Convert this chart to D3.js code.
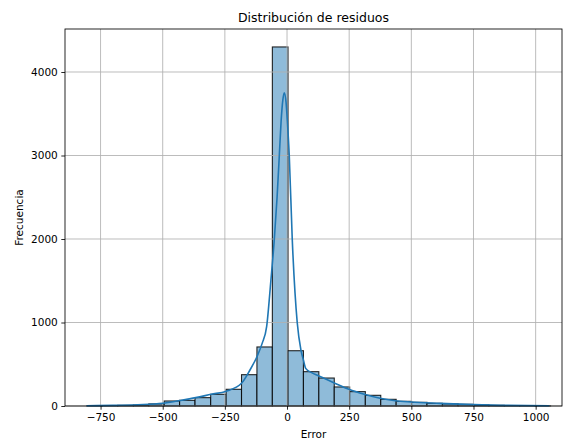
<!DOCTYPE html>
<html>
<head>
<meta charset="utf-8">
<script src="https://cdn.jsdelivr.net/npm/d3@7"></script>
<style>
  body { margin: 0; background: #fff; }
  text { font-family: "DejaVu Sans", sans-serif; fill: #000; }
</style>
</head>
<body>
<script>
const width = 563;
const height = 443;
const margin = { top: 29, right: 1, bottom: 37, left: 65 };

const chartWidth = width - margin.left - margin.right;
const chartHeight = height - margin.top - margin.bottom;

// histogram bin edges (31 edges -> 30 bins)
const binEdges = [-805, -743, -681, -618, -556, -494, -432, -370, -307, -245, -183,
  -121, -59, 4, 66, 128, 190, 252, 315, 377, 439, 501, 563, 625, 688, 750, 812,
  874, 936, 998, 1060];
const counts = [2, 4, 8, 12, 25, 60, 68, 100, 140, 200, 375, 707, 4300, 662, 411,
  335, 228, 172, 128, 80, 56, 44, 32, 25, 20, 13, 8, 5, 3, 2];

// KDE curve
const kdeX = [-806, -700, -600, -500, -430, -367, -305, -244, -183, -149, -121, -100,
  -82, -65, -51, -40, -31, -24, -17, -11, -4, 2, 9, 21, 41, 56, 66, 75, 99, 126,
  188, 249, 311, 374, 435, 499, 615, 749, 857, 1055];
const kdeY = [3, 7, 15, 32, 66, 100, 140, 178, 272, 431, 590, 750, 950, 1500, 2000,
  2500, 3000, 3400, 3660, 3752, 3640, 3380, 3000, 2000, 1000, 670, 550, 451, 399, 363,
  279, 200, 140, 92, 63, 48, 32, 16, 8, 3];

const xTicks = [-750, -500, -250, 0, 250, 500, 750, 1000];
const yTicks = [0, 1000, 2000, 3000, 4000];

const bins = counts.map((c, i) => ({ x0: binEdges[i], x1: binEdges[i + 1], count: c }));
const kde = kdeX.map((x, i) => ({ x: x, y: kdeY[i] }));

const svg = d3.select("body")
  .append("svg")
  .attr("width", width)
  .attr("height", height);

const g = svg.append("g")
  .attr("transform", `translate(${margin.left}, ${margin.top})`);

const x = d3.scaleLinear()
  .domain([-893, 1106])
  .range([0, chartWidth]);

const y = d3.scaleLinear()
  .domain([0, 4515])
  .range([chartHeight, 0]);

const fmt = d => d < 0 ? "\u2212" + Math.abs(d) : String(d);

// bars
g.selectAll("rect.bar")
  .data(bins)
  .enter()
  .append("rect")
    .attr("class", "bar")
    .attr("x", d => x(d.x0))
    .attr("y", d => y(d.count))
    .attr("width", d => x(d.x1) - x(d.x0))
    .attr("height", d => y(0) - y(d.count))
    .attr("fill", "rgb(143,187,217)")
    .attr("stroke", "#000")
    .attr("stroke-opacity", 0.85)
    .attr("stroke-width", 1.1);

// grid (above bars, below line, like matplotlib)
g.append("g")
  .selectAll("line")
  .data(xTicks)
  .enter()
  .append("line")
    .attr("x1", d => x(d)).attr("x2", d => x(d))
    .attr("y1", 0).attr("y2", chartHeight)
    .attr("stroke", "#b0b0b0")
    .attr("stroke-width", 0.85);

g.append("g")
  .selectAll("line")
  .data(yTicks)
  .enter()
  .append("line")
    .attr("x1", 0).attr("x2", chartWidth)
    .attr("y1", d => y(d)).attr("y2", d => y(d))
    .attr("stroke", "#b0b0b0")
    .attr("stroke-width", 0.85);

// kde
const line = d3.line()
  .x(d => x(d.x))
  .y(d => y(d.y))
  .curve(d3.curveMonotoneX);

g.append("path")
  .datum(kde)
  .attr("d", line)
  .attr("fill", "none")
  .attr("stroke", "#1f77b4")
  .attr("stroke-width", 1.6);

// axes
const xAxis = d3.axisBottom(x)
  .tickValues(xTicks)
  .tickFormat(fmt)
  .tickSizeOuter(0)
  .tickSize(3.7)
  .tickPadding(3.5);

g.append("g")
  .attr("transform", `translate(0, ${chartHeight})`)
  .call(xAxis)
  .call(a => a.select(".domain").remove())
  .selectAll("text")
  .attr("font-size", "10.5px")
  .attr("font-family", "DejaVu Sans");

const yAxis = d3.axisLeft(y)
  .tickValues(yTicks)
  .tickFormat(fmt)
  .tickSizeOuter(0)
  .tickSize(3.7)
  .tickPadding(3.5);

g.append("g")
  .call(yAxis)
  .call(a => a.select(".domain").remove())
  .selectAll("text")
  .attr("font-size", "10.5px")
  .attr("font-family", "DejaVu Sans");

g.selectAll(".tick line").attr("stroke", "#000").attr("stroke-width", 0.85);

// spines
g.append("rect")
  .attr("x", 0)
  .attr("y", 0)
  .attr("width", chartWidth)
  .attr("height", chartHeight)
  .attr("fill", "none")
  .attr("stroke", "#000")
  .attr("stroke-width", 0.85);

g.append("text")
  .attr("x", chartWidth / 2)
  .attr("y", -7)
  .attr("text-anchor", "middle")
  .attr("font-size", "12.5px")
  .text("Distribución de residuos");

g.append("text")
  .attr("x", chartWidth / 2)
  .attr("y", chartHeight + 32)
  .attr("text-anchor", "middle")
  .attr("font-size", "10.5px")
  .text("Error");

g.append("text")
  .attr("x", -(chartHeight / 2))
  .attr("y", -42)
  .attr("transform", "rotate(-90)")
  .attr("text-anchor", "middle")
  .attr("font-size", "10.5px")
  .text("Frecuencia");
</script>
</body>
</html>
